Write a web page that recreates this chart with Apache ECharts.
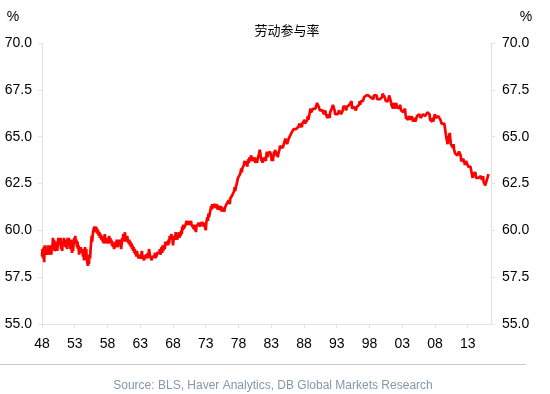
<!DOCTYPE html>
<html>
<head>
<meta charset="utf-8">
<script src="https://cdn.jsdelivr.net/npm/echarts@6/dist/echarts.min.js"></script>
<style>
html,body{margin:0;padding:0;background:#fff;}
#chart{width:550px;height:394px;}
</style>
</head>
<body>
<div id="chart"></div>
<script>
// Monthly labour force participation rate (%), Jan 1948 - Mar 2016
const startYear = 1948;
const lfpr1948_1949 = [
58.6,59.0,58.5,59.1,58.3,59.2,59.1,58.8,59.1,58.7,58.9,59.2,
58.8,59.1,58.7,58.9,59.2,58.7,59.2,59.0,59.6,59.3,59.5,58.9];
const lfpr1950s = [
59.0,58.8,59.1,59.4,58.9,59.3,59.6,59.2,59.5,59.3,59.6,59.0,
59.2,58.9,59.4,59.2,59.6,59.3,59.5,59.1,59.5,59.2,59.0,59.6,
59.3,59.6,59.2,59.4,59.0,59.5,59.1,58.8,59.2,58.9,59.4,59.6,
59.4,59.7,59.3,59.5,59.1,59.4,59.0,59.2,58.7,59.0,58.8,59.1,
59.2,58.8,59.0,58.6,58.9,58.4,58.8,59.1,58.7,59.0,58.5,58.6,
58.1,58.4,58.2,58.7,58.5,59.0,59.3,59.7,59.4,59.8,60.0,59.9,
60.2,59.9,60.0,60.2,59.9,60.1,59.8,60.0,59.7,59.9,59.6,59.8,
59.9,59.5,59.7,59.4,59.6,59.3,59.5,59.8,59.4,59.6,59.3,59.5,
59.6,59.3,59.5,59.7,59.4,59.6,59.3,59.5,59.2,59.4,59.1,59.3,
59.0,59.3,59.1,59.4,59.2,59.5,59.3,59.1,59.4,59.2,59.5,59.3];
const lfpr1960s = [
59.5,59.0,59.3,59.6,59.4,59.8,59.5,59.7,59.9,59.4,59.7,59.5,
59.7,59.5,59.6,59.3,59.5,59.2,59.4,59.1,59.3,59.0,59.2,58.9,
59.1,58.8,59.0,58.7,58.9,58.6,58.9,58.7,58.8,58.5,58.7,58.6,
58.8,58.5,58.7,58.9,58.6,58.5,58.7,58.4,58.6,58.7,58.5,58.6,
58.7,58.5,58.8,58.6,59.0,58.8,58.6,58.5,58.7,58.4,58.6,58.5,
58.7,58.5,58.6,58.8,58.5,58.8,58.6,58.8,58.9,58.7,58.9,58.8,
59.0,58.7,58.9,59.1,58.8,59.2,58.9,58.8,59.2,59.0,59.4,59.2,
59.3,59.1,59.4,59.2,59.5,59.3,59.7,59.5,59.6,59.8,59.5,59.7,
59.2,59.5,59.4,59.7,59.5,59.9,59.7,59.8,59.5,59.8,59.6,59.9,
59.6,59.9,59.7,60.0,59.8,60.2,60.0,60.3,60.1,60.2,60.0,60.3];
const lfpr1970s = [
60.2,60.5,60.4,60.6,60.3,60.5,60.3,60.4,60.2,60.5,60.3,60.4,
60.2,60.3,60.1,60.3,60.0,60.2,59.9,60.2,60.1,60.3,60.2,60.4,
60.3,60.5,60.2,60.4,60.5,60.3,60.5,60.4,60.2,60.4,60.3,60.5,
60.0,60.4,60.5,60.7,60.5,60.9,60.7,60.8,61.0,61.1,61.3,61.1,
61.4,61.2,61.3,61.2,61.4,61.3,61.5,61.2,61.4,61.3,61.1,61.3,
61.4,61.2,61.3,61.1,61.3,61.0,61.2,61.3,61.1,61.2,61.0,61.2,
61.3,61.2,61.4,61.3,61.5,61.4,61.6,61.5,61.4,61.7,61.6,61.8,
61.7,61.9,61.8,62.0,62.1,62.3,62.1,62.3,62.2,62.5,62.6,62.8,
62.8,62.7,62.9,63.0,63.1,63.3,63.1,63.3,63.2,63.4,63.5,63.7,
63.6,63.7,63.5,63.7,63.4,63.6,63.8,63.6,63.9,63.7,63.8,64.0];
const lfpr1980s = [
64.0,63.9,63.7,63.9,64.0,63.7,63.9,63.6,63.7,63.8,63.6,63.8,
63.8,64.0,64.1,64.3,64.2,63.9,63.7,63.9,63.6,63.9,64.0,63.7,
63.8,63.9,63.7,64.0,64.2,63.9,64.1,64.0,64.2,64.1,64.2,64.1,
63.9,63.7,63.9,63.7,63.8,64.2,64.0,64.3,64.2,64.0,64.2,64.1,
63.9,64.1,64.1,64.3,64.5,64.6,64.6,64.4,64.4,64.4,64.5,64.6,
64.7,64.7,64.9,64.9,64.8,64.6,64.7,64.7,64.9,65.0,64.9,65.0,
65.0,65.2,65.3,65.3,65.3,65.4,65.4,65.4,65.4,65.4,65.4,65.3,
65.4,65.5,65.5,65.4,65.7,65.5,65.6,65.7,65.5,65.7,65.7,65.7,
65.8,65.9,65.7,65.8,65.7,65.8,65.9,66.1,65.9,66.0,66.2,66.1,
66.5,66.3,66.3,66.4,66.3,66.5,66.5,66.5,66.4,66.5,66.6,66.5];
const lfpr1990s = [
66.8,66.7,66.7,66.6,66.6,66.4,66.5,66.5,66.4,66.4,66.4,66.4,
66.2,66.2,66.3,66.4,66.2,66.2,66.1,66.0,66.2,66.1,66.1,66.0,
66.3,66.2,66.4,66.5,66.6,66.7,66.7,66.6,66.4,66.2,66.3,66.3,
66.2,66.2,66.2,66.1,66.4,66.5,66.4,66.4,66.2,66.3,66.3,66.4,
66.6,66.6,66.5,66.5,66.6,66.4,66.4,66.6,66.6,66.7,66.7,66.7,
66.8,66.8,66.7,66.9,66.5,66.5,66.6,66.6,66.6,66.6,66.5,66.4,
66.4,66.6,66.6,66.7,66.7,66.7,66.9,66.7,66.9,67.0,66.9,67.0,
66.9,66.9,67.1,67.1,67.1,67.1,67.2,67.1,67.1,67.1,67.2,67.2,
67.1,67.1,67.1,67.0,67.0,67.0,67.0,67.0,67.2,67.2,67.1,67.2,
67.2,67.2,67.0,67.1,67.1,67.1,67.1,67.0,67.0,67.1,67.1,67.1];
const lfpr2000s = [
67.3,67.3,67.3,67.3,67.1,67.1,66.9,66.9,66.9,66.8,66.9,67.0,
67.2,67.1,67.2,66.9,66.7,66.7,66.8,66.5,66.8,66.7,66.7,66.7,
66.5,66.8,66.6,66.7,66.7,66.6,66.5,66.6,66.7,66.6,66.4,66.3,
66.4,66.4,66.3,66.4,66.4,66.5,66.2,66.0,66.1,66.1,66.1,65.9,
66.1,66.0,66.0,65.9,66.0,66.1,66.1,66.0,65.8,65.9,66.0,65.9,
65.8,65.9,65.9,66.1,66.1,66.1,66.1,66.2,66.1,66.1,66.0,66.0,
66.0,66.1,66.2,66.1,66.1,66.2,66.1,66.2,66.1,66.2,66.3,66.4,
66.4,66.3,66.2,65.9,66.0,66.0,66.0,65.8,66.0,65.8,66.0,66.0,
66.2,66.0,66.1,65.9,66.1,66.1,66.1,66.1,66.0,66.0,65.9,65.8,
65.7,65.8,65.6,65.7,65.7,65.7,65.5,65.4,65.1,65.0,65.0,64.6];
const lfpr2010s = [
64.8,64.9,64.9,65.2,64.9,64.6,64.6,64.7,64.6,64.4,64.6,64.3,
64.2,64.1,64.2,64.2,64.1,64.0,64.0,64.1,64.2,64.1,64.1,64.0,
63.7,63.8,63.8,63.7,63.8,63.8,63.7,63.5,63.6,63.7,63.6,63.7,
63.6,63.4,63.3,63.4,63.4,63.4,63.4,63.3,63.3,62.8,63.0,62.9,
62.9,62.9,63.1,62.8,62.8,62.8,62.9,62.9,62.8,62.9,62.9,62.7,
62.9,62.8,62.7,62.8,62.9,62.6,62.6,62.6,62.4,62.5,62.5,62.7,
62.7,62.9,63.0];
const tickLabels = ['48','53','58','63','68','73','78','83','88','93','98','03','08','13'];
const yTicks = [55.0, 57.5, 60.0, 62.5, 65.0, 67.5, 70.0];

const allValues = [].concat(lfpr1948_1949, lfpr1950s, lfpr1960s, lfpr1970s, lfpr1980s, lfpr1990s, lfpr2000s, lfpr2010s);
const seriesData = allValues.map((v, i) => [i / 12, v]);

const axisGray = '#e2e2e2';
const labelFont = '"Liberation Sans", Arial, sans-serif';

const chart = echarts.init(document.getElementById('chart'), null, {renderer: 'canvas'});
chart.setOption({
  animation: false,
  backgroundColor: '#ffffff',
  grid: {left: 42, right: 59, top: 43, bottom: 70, containLabel: false},
  xAxis: {
    type: 'value',
    min: 0,
    max: 68.55,
    interval: 5,
    axisLine: {show: true, lineStyle: {color: axisGray, width: 1}},
    axisTick: {show: true, length: 4, lineStyle: {color: axisGray}},
    splitLine: {show: false},
    axisLabel: {
      color: '#000', fontSize: 14, fontFamily: labelFont, margin: 13,
      showMaxLabel: false,
      formatter: v => tickLabels[Math.round(v / 5)] || ''
    }
  },
  yAxis: [
    {
      type: 'value', position: 'left', min: yTicks[0], max: yTicks[yTicks.length - 1], interval: 2.5,
      axisLine: {show: true, lineStyle: {color: axisGray, width: 1}},
      axisTick: {show: true, length: 4, lineStyle: {color: axisGray}},
      splitLine: {show: false},
      axisLabel: {color: '#000', fontSize: 14, fontFamily: labelFont, margin: 10, formatter: v => v.toFixed(1)}
    },
    {
      type: 'value', position: 'right', min: yTicks[0], max: yTicks[yTicks.length - 1], interval: 2.5,
      axisLine: {show: true, lineStyle: {color: axisGray, width: 1}},
      axisTick: {show: true, length: 4, lineStyle: {color: axisGray}},
      splitLine: {show: false},
      axisLabel: {color: '#000', fontSize: 14, fontFamily: labelFont, margin: 11, formatter: v => v.toFixed(1)}
    }
  ],
  series: [{
    type: 'line',
    data: seriesData,
    yAxisIndex: 0,
    showSymbol: false,
    symbol: 'none',
    lineStyle: {color: '#ff0000', width: 2.7},
    itemStyle: {color: '#ff0000'}
  }],
  graphic: [
    {type: 'text', x: 287, y: 30, style: {text: '劳动参与率', fontSize: 13, fontFamily: '"Noto Sans CJK SC", sans-serif', fill: '#000', align: 'center', verticalAlign: 'middle'}},
    {type: 'text', x: 13, y: 17, style: {text: '%', fontSize: 14, fontFamily: labelFont, fill: '#000', align: 'center', verticalAlign: 'middle'}},
    {type: 'text', x: 526, y: 17, style: {text: '%', fontSize: 14, fontFamily: labelFont, fill: '#000', align: 'center', verticalAlign: 'middle'}},
    {type: 'line', shape: {x1: 0, y1: 364.5, x2: 526, y2: 364.5}, style: {stroke: '#c5cdd8', lineWidth: 1}},
    {type: 'text', x: 273, y: 386, style: {text: 'Source: BLS, Haver Analytics, DB Global Markets Research', fontSize: 12, fontFamily: labelFont, fill: '#8596ad', align: 'center', verticalAlign: 'middle'}}
  ]
});
</script>
</body>
</html>
